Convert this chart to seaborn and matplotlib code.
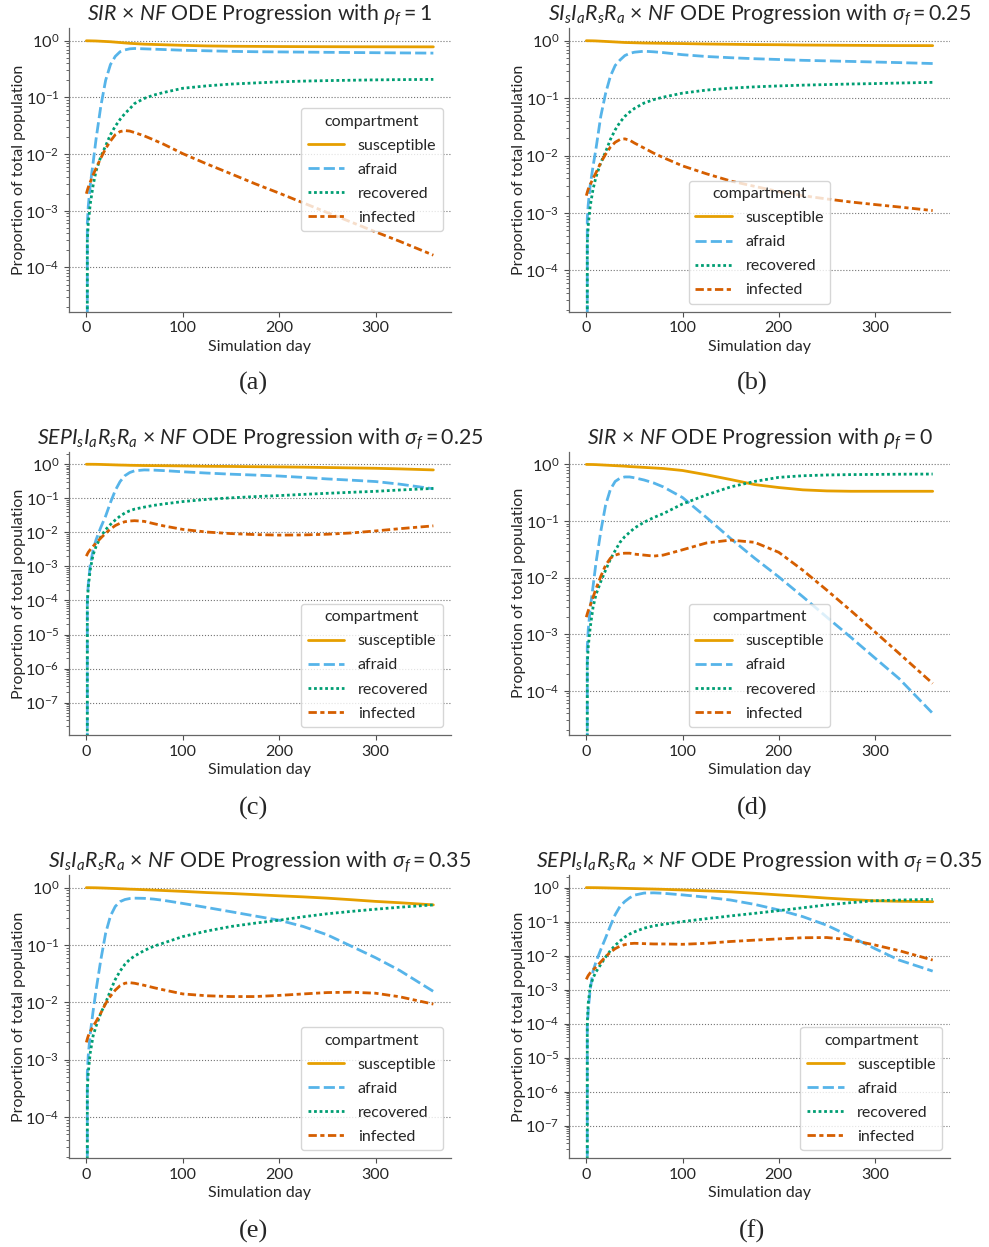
import numpy as np
import pandas as pd
import matplotlib
matplotlib.use("Agg")
import matplotlib.pyplot as plt
from matplotlib.ticker import LogLocator
import seaborn as sns

DAYS = [0, 1, 2, 4, 7, 10, 15, 20, 25, 30, 35, 40, 45, 50, 60, 70, 80,
        100, 125, 150, 175, 200, 225, 250, 275, 300, 325, 360]
COMPARTMENTS = ["susceptible", "afraid", "recovered", "infected"]
COLORS = ["#E69F00", "#56B4E9", "#009E73", "#D55E00"]

# ---- (a) SIR x NF, rho_f = 1
a_susceptible = [0.998, 0.998, 0.997, 0.996, 0.993, 0.99, 0.98, 0.97, 0.96, 0.945, 0.93, 0.915, 0.9, 0.89,
                 0.87, 0.86, 0.85, 0.83, 0.81, 0.8, 0.795, 0.79, 0.787, 0.785, 0.783, 0.782, 0.781, 0.78]
a_afraid = [0, 6e-4, 1.2e-3, 2.8e-3, 7e-3, 0.018, 0.07, 0.2, 0.38, 0.53, 0.64, 0.69, 0.72, 0.73,
            0.72, 0.71, 0.70, 0.68, 0.665, 0.65, 0.64, 0.635, 0.63, 0.625, 0.62, 0.615, 0.61, 0.605]
a_recovered = [0, 3e-4, 6e-4, 1.3e-3, 2.8e-3, 5e-3, 9e-3, 0.014, 0.022, 0.031, 0.041, 0.052, 0.063, 0.078,
               0.096, 0.11, 0.122, 0.145, 0.16, 0.172, 0.18, 0.188, 0.194, 0.198, 0.201, 0.204, 0.206, 0.208]
a_infected = [2e-3, 2.3e-3, 2.6e-3, 3.2e-3, 4.3e-3, 5.6e-3, 8.5e-3, 0.0125, 0.017, 0.022, 0.025, 0.026, 0.0255, 0.024,
              0.021, 0.0178, 0.015, 0.0102, 6.7e-3, 4.5e-3, 3.0e-3, 2.05e-3, 1.38e-3, 9.3e-4, 6.3e-4, 4.25e-4, 2.9e-4, 1.65e-4]

# ---- (b) SIsIaRsRa x NF, sigma_f = 0.25
b_susceptible = [0.998, 0.998, 0.997, 0.996, 0.994, 0.99, 0.98, 0.97, 0.96, 0.95, 0.94, 0.93, 0.925, 0.92,
                 0.91, 0.905, 0.9, 0.89, 0.875, 0.865, 0.855, 0.85, 0.84, 0.835, 0.83, 0.825, 0.822, 0.82]
b_afraid = [0, 8e-4, 1.4e-3, 3e-3, 6.5e-3, 0.013, 0.048, 0.12, 0.24, 0.37, 0.46, 0.55, 0.6, 0.63,
            0.655, 0.64, 0.62, 0.57, 0.53, 0.505, 0.485, 0.47, 0.455, 0.445, 0.435, 0.425, 0.415, 0.40]
b_recovered = [0, 3e-4, 6e-4, 1.3e-3, 2.6e-3, 4.2e-3, 7.5e-3, 0.0115, 0.019, 0.028, 0.038, 0.048, 0.057, 0.066,
               0.082, 0.094, 0.104, 0.122, 0.138, 0.149, 0.157, 0.163, 0.168, 0.172, 0.176, 0.179, 0.183, 0.188]
b_infected = [2e-3, 2.3e-3, 2.6e-3, 3.1e-3, 4e-3, 5e-3, 7.5e-3, 0.0105, 0.014, 0.017, 0.019, 0.0195, 0.0185, 0.0165,
              0.0135, 0.011, 9.2e-3, 6.6e-3, 4.8e-3, 3.6e-3, 2.9e-3, 2.35e-3, 2.0e-3, 1.75e-3, 1.55e-3, 1.4e-3, 1.27e-3, 1.1e-3]

# ---- (c) SEPIsIaRsRa x NF, sigma_f = 0.25
c_susceptible = [0.998, 0.998, 0.998, 0.997, 0.995, 0.993, 0.985, 0.975, 0.965, 0.955, 0.945, 0.94, 0.93, 0.925,
                 0.915, 0.91, 0.905, 0.89, 0.87, 0.86, 0.845, 0.835, 0.82, 0.8, 0.78, 0.76, 0.73, 0.68]
c_afraid = [0, 1e-4, 3e-4, 1.1e-3, 3e-3, 6e-3, 0.014, 0.03, 0.075, 0.17, 0.31, 0.46, 0.57, 0.64,
            0.68, 0.67, 0.65, 0.6, 0.55, 0.51, 0.48, 0.45, 0.41, 0.37, 0.34, 0.31, 0.26, 0.19]
c_recovered = [0, 8e-5, 2.5e-4, 8e-4, 2.2e-3, 3.8e-3, 7.5e-3, 0.012, 0.017, 0.023, 0.03, 0.037, 0.043, 0.048,
               0.055, 0.062, 0.068, 0.08, 0.093, 0.103, 0.112, 0.12, 0.13, 0.14, 0.15, 0.16, 0.175, 0.195]
c_infected = [2e-3, 2.3e-3, 2.6e-3, 3.1e-3, 3.9e-3, 4.8e-3, 6.8e-3, 9.4e-3, 0.0125, 0.0158, 0.0185, 0.0205, 0.0215, 0.022,
              0.021, 0.018, 0.0155, 0.0122, 0.0102, 0.0092, 0.0086, 0.0083, 0.0084, 0.0088, 0.0096, 0.011, 0.0128, 0.0155]

# ---- (d) SIR x NF, rho_f = 0
d_susceptible = [0.998, 0.998, 0.997, 0.996, 0.994, 0.99, 0.98, 0.97, 0.96, 0.95, 0.94, 0.93, 0.915, 0.905,
                 0.885, 0.865, 0.845, 0.78, 0.655, 0.54, 0.44, 0.39, 0.355, 0.34, 0.335, 0.335, 0.335, 0.335]
d_afraid = [0, 6e-4, 1.2e-3, 2.8e-3, 7e-3, 0.018, 0.065, 0.19, 0.36, 0.5, 0.57, 0.6, 0.6, 0.58,
            0.53, 0.47, 0.4, 0.26, 0.115, 0.049, 0.022, 0.0103, 4.6e-3, 2.0e-3, 8.8e-4, 3.8e-4, 1.65e-4, 4e-5]
d_recovered = [0, 3e-4, 6e-4, 1.3e-3, 3e-3, 5e-3, 8.5e-3, 0.0135, 0.021, 0.03, 0.042, 0.053, 0.063, 0.075,
               0.095, 0.115, 0.135, 0.2, 0.29, 0.4, 0.5, 0.59, 0.63, 0.65, 0.66, 0.665, 0.67, 0.675]
d_infected = [2e-3, 2.3e-3, 2.6e-3, 3.2e-3, 4.5e-3, 6.3e-3, 0.0105, 0.0165, 0.022, 0.025, 0.0265, 0.027, 0.027, 0.026,
              0.025, 0.024, 0.025, 0.031, 0.041, 0.046, 0.042, 0.028, 0.0135, 6e-3, 2.6e-3, 1.1e-3, 4.6e-4, 1.35e-4]

# ---- (e) SIsIaRsRa x NF, sigma_f = 0.35
e_susceptible = [0.998, 0.998, 0.998, 0.997, 0.995, 0.993, 0.987, 0.98, 0.972, 0.965, 0.957, 0.95, 0.94, 0.935,
                 0.92, 0.905, 0.89, 0.86, 0.82, 0.79, 0.755, 0.72, 0.69, 0.655, 0.615, 0.575, 0.545, 0.5]
e_afraid = [0, 6e-4, 1.2e-3, 2.8e-3, 7e-3, 0.016, 0.055, 0.16, 0.32, 0.47, 0.57, 0.62, 0.645, 0.655,
            0.65, 0.63, 0.6, 0.53, 0.45, 0.38, 0.32, 0.27, 0.21, 0.15, 0.095, 0.06, 0.036, 0.0155]
e_recovered = [0, 3e-4, 6e-4, 1.3e-3, 2.6e-3, 3.8e-3, 6.5e-3, 0.0098, 0.016, 0.025, 0.035, 0.046, 0.056, 0.064,
               0.08, 0.095, 0.108, 0.14, 0.175, 0.21, 0.24, 0.27, 0.31, 0.35, 0.385, 0.42, 0.455, 0.5]
e_infected = [2e-3, 2.3e-3, 2.6e-3, 3.1e-3, 3.8e-3, 4.6e-3, 6.5e-3, 9.5e-3, 0.0128, 0.0163, 0.0195, 0.0215, 0.022, 0.0215,
              0.0198, 0.018, 0.0165, 0.014, 0.013, 0.0126, 0.0126, 0.0132, 0.014, 0.0148, 0.015, 0.0144, 0.0125, 0.0093]

# ---- (f) SEPIsIaRsRa x NF, sigma_f = 0.35
f_susceptible = [0.998, 0.998, 0.998, 0.997, 0.995, 0.993, 0.987, 0.98, 0.972, 0.965, 0.957, 0.95, 0.942, 0.935,
                 0.92, 0.905, 0.89, 0.85, 0.8, 0.75, 0.68, 0.61, 0.55, 0.49, 0.445, 0.41, 0.395, 0.385]
f_afraid = [0, 8e-5, 2.5e-4, 1e-3, 3.5e-3, 6.5e-3, 0.015, 0.033, 0.075, 0.16, 0.28, 0.39, 0.5, 0.6,
            0.69, 0.7, 0.68, 0.61, 0.52, 0.43, 0.32, 0.22, 0.14, 0.078, 0.036, 0.016, 7.4e-3, 3.5e-3]
f_recovered = [0, 1e-4, 4e-4, 1.2e-3, 2.2e-3, 3.3e-3, 5.5e-3, 9e-3, 0.014, 0.02, 0.027, 0.035, 0.043, 0.05,
               0.064, 0.075, 0.083, 0.1, 0.122, 0.147, 0.175, 0.21, 0.255, 0.31, 0.36, 0.41, 0.43, 0.45]
f_infected = [2e-3, 2.3e-3, 2.6e-3, 3.1e-3, 3.8e-3, 4.6e-3, 6.5e-3, 9.3e-3, 0.0125, 0.016, 0.019, 0.021, 0.0225, 0.023,
              0.0225, 0.022, 0.022, 0.0215, 0.023, 0.026, 0.0285, 0.031, 0.0335, 0.034, 0.029, 0.0205, 0.014, 0.0074]

TITLES = [
    r"$SIR$ $\times$ $NF$ ODE Progression with $\rho_f = 1$",
    r"$SI_sI_aR_sR_a$ $\times$ $NF$ ODE Progression with $\sigma_f = 0.25$",
    r"$SEPI_sI_aR_sR_a$ $\times$ $NF$ ODE Progression with $\sigma_f = 0.25$",
    r"$SIR$ $\times$ $NF$ ODE Progression with $\rho_f = 0$",
    r"$SI_sI_aR_sR_a$ $\times$ $NF$ ODE Progression with $\sigma_f = 0.35$",
    r"$SEPI_sI_aR_sR_a$ $\times$ $NF$ ODE Progression with $\sigma_f = 0.35$",
]
CAPTIONS = ["(a)", "(b)", "(c)", "(d)", "(e)", "(f)"]
PANELS = [
    (a_susceptible, a_afraid, a_recovered, a_infected),
    (b_susceptible, b_afraid, b_recovered, b_infected),
    (c_susceptible, c_afraid, c_recovered, c_infected),
    (d_susceptible, d_afraid, d_recovered, d_infected),
    (e_susceptible, e_afraid, e_recovered, e_infected),
    (f_susceptible, f_afraid, f_recovered, f_infected),
]
# y-range exponents (log10) per panel
YLIM_EXP = [(-4.78, 0.23), (-4.72, 0.226), (-7.95, 0.35), (-4.78, 0.224), (-4.72, 0.22), (-7.96, 0.37)]
LEGEND_LOC = ["center right", "lower center", "lower right", "lower center", "lower right", "lower right"]

sns.set_theme(style="ticks")
plt.rcParams["font.family"] = ["Lato", "DejaVu Sans"]
plt.rcParams["mathtext.fontset"] = "custom"
plt.rcParams["mathtext.rm"] = "Lato"
plt.rcParams["mathtext.it"] = "Lato:italic"
plt.rcParams["mathtext.bf"] = "Lato:bold"
plt.rcParams["mathtext.fallback"] = "stixsans"

W, H = 989, 1247
fig = plt.figure(figsize=(W / 100, H / 100), dpi=100)

# axes boxes in pixels: left, top, right, bottom
BOXES = [
    (69, 27.7, 450.7, 311.7), (569, 27.7, 950, 311.7),
    (69, 452.3, 450.7, 735), (569, 451.7, 950, 735),
    (69, 875, 450.7, 1158.3), (569, 875, 950, 1158.3),
]
CAPTION_Y = [383, 383, 808, 808, 1231, 1231]

for k in range(6):
    l, t, r, b = BOXES[k]
    ax = fig.add_axes([l / W, 1 - b / H, (r - l) / W, (b - t) / H])
    vals = PANELS[k]
    df = pd.DataFrame({
        "day": DAYS * 4,
        "value": [v for series in vals for v in series],
        "compartment": [c for c in COMPARTMENTS for _ in DAYS],
    })
    sns.lineplot(data=df, x="day", y="value", hue="compartment", style="compartment",
                 hue_order=COMPARTMENTS, style_order=COMPARTMENTS, palette=COLORS,
                 estimator=None, linewidth=2.0, ax=ax)
    ax.set_yscale("log")
    lo, hi = YLIM_EXP[k]
    ax.set_ylim(10 ** lo, 10 ** hi)
    ax.set_xlim(-18, 378)
    ax.set_xticks([0, 100, 200, 300])
    ax.yaxis.set_major_locator(LogLocator(base=10, numticks=20))
    ax.grid(axis="y", which="major", linestyle=":", color="0.45", linewidth=0.8)
    ax.grid(axis="x", visible=False)
    ax.tick_params(axis="x", which="major", labelsize=11.5, length=3.5, width=0.8, color="0.3")
    ax.tick_params(axis="y", which="major", labelsize=11.8, length=3.5, width=0.8, color="0.3")
    ax.tick_params(axis="y", which="minor", length=2, width=0.6, color="0.3")
    for sp in ["left", "bottom"]:
        ax.spines[sp].set_color("0.4")
        ax.spines[sp].set_linewidth(0.9)
    sns.despine(ax=ax)
    ax.set_xlabel("Simulation day", fontsize=11.5, labelpad=3)
    ax.set_ylabel("Proportion of total population", fontsize=11.5, labelpad=-0.5)
    ax.set_title(TITLES[k], fontsize=15.3, pad=5)
    sns.move_legend(ax, loc=LEGEND_LOC[k], title="compartment", fontsize=11.5,
                    title_fontsize=11.5, frameon=True, handlelength=2.3,
                    labelspacing=0.62, handletextpad=0.85)
    fig.text((253 if k % 2 == 0 else 752) / W, 1 - CAPTION_Y[k] / H, CAPTIONS[k],
             ha="center", va="center", fontsize=19, family="Liberation Serif")

fig.savefig("out.png", dpi=100)
